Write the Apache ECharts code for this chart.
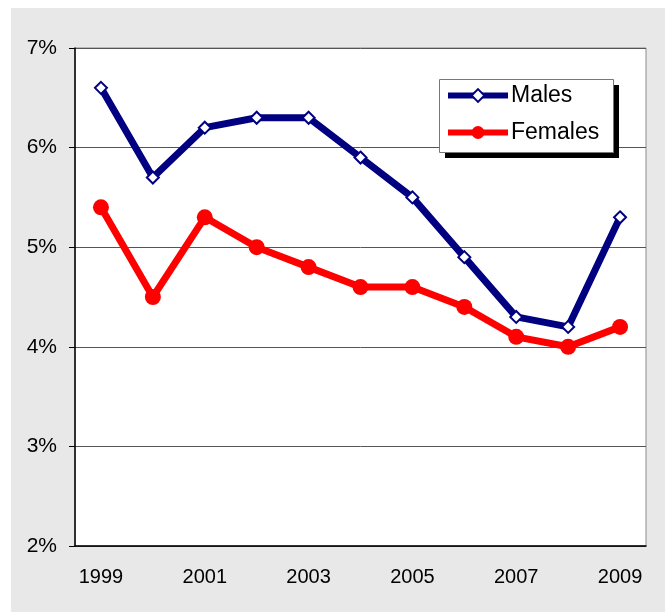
<!DOCTYPE html>
<html><head><meta charset="utf-8">
<script src="https://cdn.jsdelivr.net/npm/echarts@6/dist/echarts.min.js"></script>
<style>html,body{margin:0;padding:0;background:#fff}#c{width:665px;height:612px}</style>
</head><body><div id="c"></div>
<script>
var years = ['1999','2000','2001','2002','2003','2004','2005','2006','2007','2008','2009'];
var males = [6.6, 5.7, 6.2, 6.3, 6.3, 5.9, 5.5, 4.9, 4.3, 4.2, 5.3];
var females = [5.4, 4.5, 5.3, 5.0, 4.8, 4.6, 4.6, 4.4, 4.1, 4.0, 4.2];
var yTicks = [2, 3, 4, 5, 6, 7];

var FONT = 'Liberation Sans, Arial, sans-serif';
var chart = echarts.init(document.getElementById('c'));
chart.setOption({
  animation: false,
  backgroundColor: '#ffffff',
  textStyle: {fontFamily: FONT},
  graphic: [
    {type: 'rect', z: -10, silent: true,
     shape: {x: 11, y: 8, width: 660, height: 610},
     style: {fill: '#e8e8e8'}},
    {type: 'rect', z: 20, silent: true,
     shape: {x: 445, y: 85, width: 174, height: 73},
     style: {fill: '#000000'}},
    {type: 'rect', z: 21, silent: true,
     shape: {x: 439.5, y: 79.5, width: 174, height: 73},
     style: {fill: '#ffffff', stroke: '#777777', lineWidth: 1}}
  ],
  grid: {left: 75, right: 19, top: 48, bottom: 66, show: true,
    backgroundColor: '#ffffff', borderColor: '#8c8c8c', borderWidth: 1},
  legend: {
    orient: 'vertical', left: 439, top: 79, z: 30,
    padding: [5, 10, 5, 6], itemGap: 14,
    itemWidth: 60, itemHeight: 16,
    lineStyle: {width: 6},
    textStyle: {fontSize: 23, color: '#000', fontFamily: FONT, padding: [0, 0, 0, -2]},
    data: ['Males', 'Females']
  },
  xAxis: {
    type: 'category', data: years, boundaryGap: true,
    axisLine: {lineStyle: {color: '#000', width: 1.5}},
    axisTick: {inside: true, length: 6, interval: 0, lineStyle: {color: '#000'}},
    axisLabel: {interval: 1, fontSize: 20, color: '#000', margin: 21}
  },
  yAxis: {
    type: 'value', min: yTicks[0], max: yTicks[yTicks.length - 1], interval: 1,
    axisLine: {show: true, lineStyle: {color: '#000', width: 1.5}},
    axisTick: {show: true, length: 6, lineStyle: {color: '#000'}},
    axisLabel: {formatter: '{value}%', fontSize: 21, color: '#000', margin: 18},
    splitLine: {show: true, lineStyle: {color: '#555', width: 1}}
  },
  series: [
    {name: 'Males', type: 'line', data: males,
     lineStyle: {color: '#000080', width: 7},
     itemStyle: {color: '#ffffff', borderColor: '#000080', borderWidth: 2},
     symbol: 'diamond', symbolSize: 12, showAllSymbol: true, z: 3},
    {name: 'Females', type: 'line', data: females,
     lineStyle: {color: '#ff0000', width: 7},
     itemStyle: {color: '#ff0000', borderColor: '#ff0000', borderWidth: 0},
     symbol: 'circle', symbolSize: 16, showAllSymbol: true, z: 2}
  ]
});
</script></body></html>
